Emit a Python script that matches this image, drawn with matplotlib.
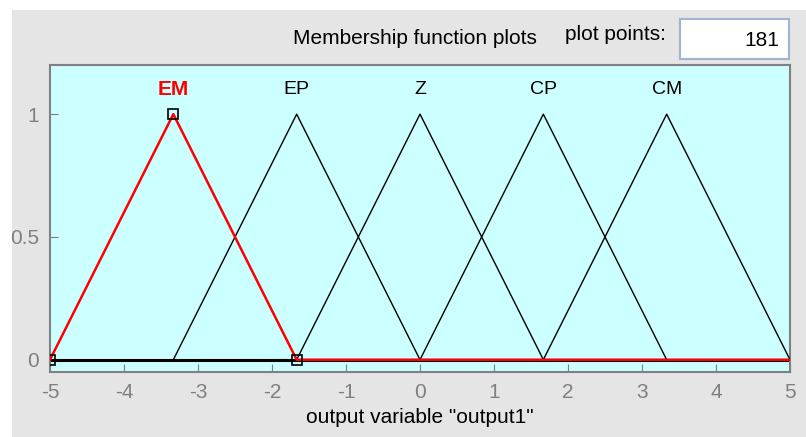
import numpy as np
import matplotlib.pyplot as plt
from matplotlib.patches import Rectangle

# triangular membership functions of output1, range [-5, 5]
names = ['EM', 'EP', 'Z', 'CP', 'CM']
params = [[-5, -3.333, -1.667],
          [-3.333, -1.667, 0],
          [-1.667, 0, 1.667],
          [0, 1.667, 3.333],
          [1.667, 3.333, 5]]
n_points = 181
x_range = [-5, 5]
selected = 0

FONT = ['Liberation Sans', 'DejaVu Sans']
BG = '#e5e5e5'
AXBG = '#ccffff'
GREY = '#808080'


def trimf(x, abc):
    a, b, c = abc
    y = np.zeros_like(x)
    up = (x >= a) & (x <= b)
    down = (x > b) & (x <= c)
    if b > a:
        y[up] = (x[up] - a) / (b - a)
    if c > b:
        y[down] = (c - x[down]) / (c - b)
    return y


plt.rcParams['font.family'] = FONT
plt.rcParams['axes.unicode_minus'] = False
fig = plt.figure(figsize=(8.06, 4.37), dpi=100)
fig.patch.set_facecolor('white')
fig.patches.append(Rectangle((12 / 806, 0), 1, 1 - 10 / 437, transform=fig.transFigure,
                             facecolor=BG, edgecolor='none', zorder=-10))

ax = fig.add_axes([50 / 806, 65 / 437, 740 / 806, 307 / 437])
ax.set_facecolor(AXBG)

x = np.linspace(x_range[0], x_range[1], n_points)
ax.plot(x_range, [0, 0], color='black', lw=2.2, zorder=2)
for i, (name, p) in enumerate(zip(names, params)):
    y = trimf(x, p)
    if i == selected:
        continue
    ax.plot(x, y, color='black', lw=1.0, zorder=3)
    ax.text(p[1], 1.1, name, ha='center', va='center', fontsize=14, color='black')

# selected function drawn on top in red
p = params[selected]
y = trimf(x, p)
ax.plot(x, y, color='red', lw=1.8, zorder=4)
ax.plot(p, [0, 1, 0], ls='none', marker='s', ms=7, mfc='none', mec='black', mew=1.2, zorder=5)
ax.text(p[1], 1.1, names[selected], ha='center', va='center', fontsize=15,
        color='red', fontweight='bold')

ax.set_xlim(x_range)
ax.set_ylim(-0.05, 1.2)
ax.set_xticks(range(-5, 6))
ax.set_yticks([0, 0.5, 1])
ax.set_yticklabels(['0', '0.5', '1'])
ax.tick_params(direction='in', length=6, color=GREY, labelcolor=GREY, labelsize=15,
               pad=8, top=False, right=False)
for s in ax.spines.values():
    s.set_color(GREY)
    s.set_linewidth(1.5)
ax.set_xlabel('output variable "output1"', fontsize=15, labelpad=4)

fig.text(415 / 806, 1 - 39 / 437, 'Membership function plots', ha='center', va='center',
         fontsize=15)
fig.text(615 / 806, 1 - 35 / 437, 'plot points:', ha='center', va='center', fontsize=15)
fig.patches.append(Rectangle((680 / 806, 1 - 59 / 437), 109 / 806, 40 / 437,
                             transform=fig.transFigure, facecolor='white',
                             edgecolor='#9fb4cf', lw=1.5))
fig.text(779 / 806, 1 - 40 / 437, str(n_points), ha='right', va='center', fontsize=15)

fig.savefig('out.png', dpi=100, facecolor=fig.get_facecolor())
